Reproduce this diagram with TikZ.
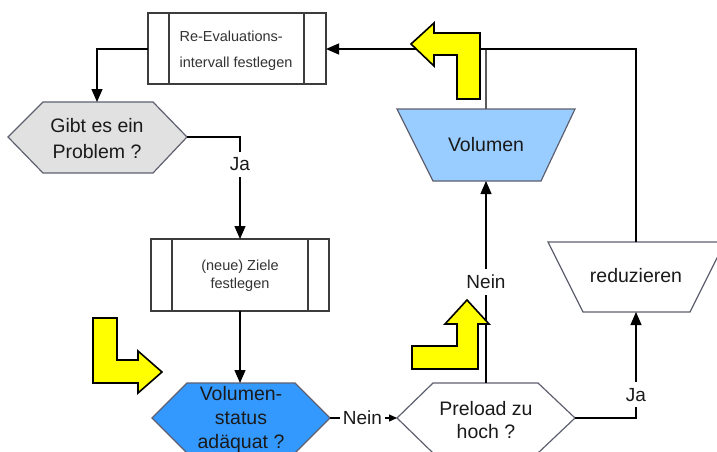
\documentclass[tikz,border=0pt]{standalone}
\usepackage{fontspec}
\setmainfont{Liberation Sans}
\usetikzlibrary{arrows.meta}

\definecolor{linegray}{HTML}{5A5A5A}
\definecolor{edgegray}{HTML}{3C3C3C}
\definecolor{shapeedge}{HTML}{5E6070}
\definecolor{hexgray}{HTML}{E1E1E1}
\definecolor{hexblue}{HTML}{3399FF}
\definecolor{trapblue}{HTML}{99CCFF}
\definecolor{hintyellow}{HTML}{FFFF00}
\definecolor{txt}{HTML}{1A1A1A}
\definecolor{smalltxt}{HTML}{333333}

\tikzset{
  flow/.style={draw=linegray, line width=1.2pt, -{Triangle[length=13pt,width=11pt]}, black},
  plainflow/.style={draw=linegray, line width=1.2pt},
  procbox/.style={draw=edgegray, line width=1.2pt, fill=white},
  decision/.style={draw=shapeedge, line width=1.2pt},
  hint/.style={draw=black, line width=1.6pt, fill=hintyellow, line join=miter},
  bigtxt/.style={font=\fontsize{19.5}{24}\selectfont, text=txt, align=center, inner sep=0pt},
  smalltext/.style={font=\fontsize{14.5}{18}\selectfont, text=smalltxt, inner sep=0pt},
  lbl/.style={font=\fontsize{19}{22}\selectfont, text=txt, fill=white, inner xsep=2pt, inner ysep=4pt}
}

\begin{document}
\begin{tikzpicture}[x=1pt, y=-1pt]
\useasboundingbox (0,0) rectangle (717,452);

% ---- predefined process: re-evaluation interval
\draw[procbox] (148,13) rectangle (326,84);
\draw[procbox] (169,13) -- (169,84) (304,13) -- (304,84);
\node[smalltext, align=left, font=\fontsize{14.5}{26}\selectfont] (reeval) at (236,51)
  {Re-Evaluations-\\intervall festlegen};
\coordinate (reevalW) at (148,49);
\coordinate (reevalE) at (326,49);

% ---- decision: is there a problem
\draw[decision, fill=hexgray] (8,137) -- (43,102) -- (153,102) -- (187,137)
  -- (153,173) -- (43,173) -- cycle;
\node[bigtxt, font=\fontsize{19.5}{26}\selectfont] (problem) at (97,139) {Gibt es ein\\Problem ?};
\coordinate (problemN) at (97,102);
\coordinate (problemE) at (187,137);

% ---- predefined process: (new) goals
\draw[procbox] (151,239) rectangle (329,311);
\draw[procbox] (172,239) -- (172,311) (308,239) -- (308,311);
\node[smalltext, align=center] (goals) at (240,276) {(neue) Ziele\\festlegen};
\coordinate (goalsN) at (240,239);
\coordinate (goalsS) at (240,311);

% ---- decision: volume status adequate
\draw[decision, fill=hexblue] (152,418) -- (187,383) -- (295,383) -- (330,418)
  -- (295,453) -- (187,453) -- cycle;
\node[bigtxt] (volstat) at (241,419) {Volumen-\\status\\adäquat ?};
\coordinate (volstatN) at (240,383);
\coordinate (volstatE) at (330,418);

% ---- decision: preload too high
\draw[decision, fill=white] (397,418) -- (433,383) -- (538,383) -- (575,418)
  -- (538,453) -- (433,453) -- cycle;
\node[bigtxt, font=\fontsize{19.5}{23}\selectfont] (preload) at (486,420) {Preload zu\\hoch ?};
\coordinate (preloadW) at (397,418);
\coordinate (preloadN) at (486,383);
\coordinate (preloadE) at (575,418);

% ---- manual operation: volume
\draw[decision, fill=trapblue] (397,109) -- (575,109) -- (541,181) -- (433,181) -- cycle;
\node[bigtxt] (volume) at (486,145) {Volumen};
\coordinate (volumeN) at (486,109);
\coordinate (volumeS) at (486,181);

% ---- manual operation: reduce
\draw[decision, fill=white] (548,242) -- (725,242) -- (690,312) -- (583,312) -- cycle;
\node[bigtxt] (reduce) at (636,276) {reduzieren};
\coordinate (reduceN) at (636,242);
\coordinate (reduceS) at (636,312);

% ---- connectors
\coordinate (join) at (486,49);
\draw[plainflow] (volumeN) -- (join);
\draw[flow] (reduceN) |- (reevalE);
\draw[flow] (reevalW) -| (problemN);
\draw[flow] (problemE) -| (goalsN) node[lbl, pos=0.635, inner ysep=6pt] (ja1) {Ja};
\draw[flow] (goalsS) -- (volstatN);
\draw[draw=linegray, line width=1.2pt, -{Triangle[length=8pt,width=7pt]}, black]
  (volstatE) -- (preloadW) node[lbl, midway, xshift=-1pt, inner xsep=3pt] (nein1) {Nein};
\draw[flow] (preloadN) -- (volumeS) node[lbl, pos=0.5, inner ysep=6pt] (nein2) {Nein};
\draw[flow] (preloadE) -| (reduceS) node[lbl, pos=0.61, inner ysep=6pt] (ja2) {Ja};

% ---- yellow hint arrows
\draw[hint] (480,99) -- (480,33) -- (434,33) -- (434,23) -- (411,44) -- (434,66)
  -- (434,55) -- (457,55) -- (457,99) -- cycle;
\draw[hint] (412,346) -- (457,346) -- (457,324) -- (445,324) -- (467,300)
  -- (489,324) -- (478,324) -- (478,369) -- (412,369) -- cycle;
\draw[hint] (93,318) -- (117,318) -- (117,360) -- (138,360) -- (138,351)
  -- (162,372) -- (138,393) -- (138,383) -- (93,383) -- cycle;
\end{tikzpicture}
\end{document}
